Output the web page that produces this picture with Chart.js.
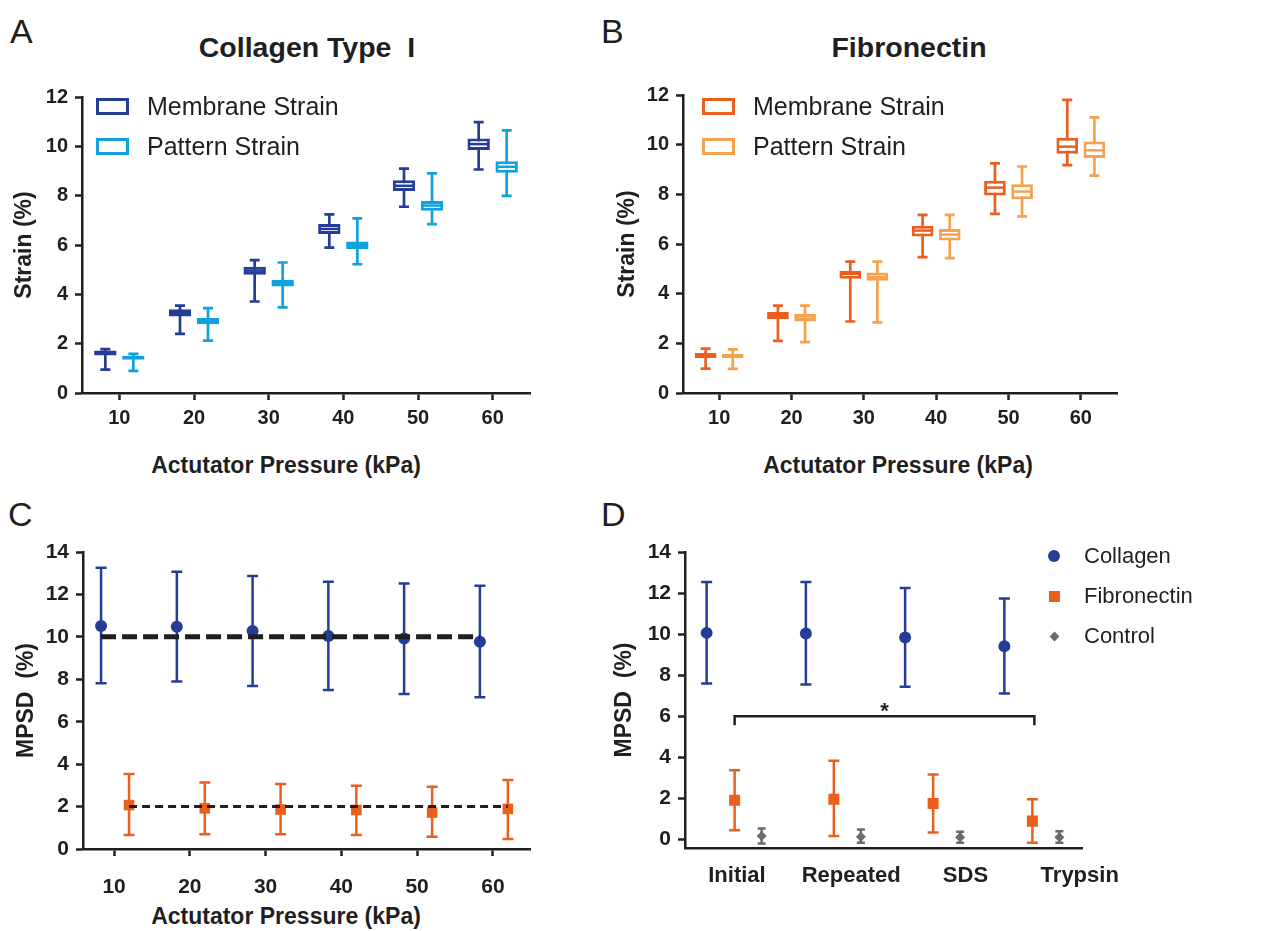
<!DOCTYPE html>
<html>
<head>
<meta charset="utf-8">
<title>Strain and MPSD</title>
<script src="https://cdn.jsdelivr.net/npm/chart.js@4/dist/chart.umd.min.js"></script>
<style>
  body { margin: 0; background: #fff; }
  #page { position: relative; width: 1271px; height: 931px; overflow: hidden;
          font-family: "Liberation Sans", Arial, Helvetica, sans-serif; color: #1f1f1f; }
  canvas { position: absolute; }
  .txt { position: absolute; white-space: pre; transform: translate(-50%, -50%); }
  .letter { position: absolute; font-size: 34px; line-height: 34px; }
  .title { font-size: 28.5px; font-weight: bold; }
  .axis-title { font-size: 23px; font-weight: bold; }
  .legend-row { position: absolute; display: flex; align-items: center; white-space: nowrap; }
</style>
</head>
<body>
<div id="page">
  <div class="letter" style="left:10px;top:14px">A</div>
  <div class="letter" style="left:601px;top:14px">B</div>
  <div class="letter" style="left:8px;top:497px">C</div>
  <div class="letter" style="left:601px;top:497px">D</div>

  <div class="txt title" style="left:307px;top:47px">Collagen Type  I</div>
  <div class="txt title" style="left:909px;top:47px">Fibronectin</div>

  <div class="txt axis-title" style="left:286px;top:465px">Actutator Pressure (kPa)</div>
  <div class="txt axis-title" style="left:898px;top:465px">Actutator Pressure (kPa)</div>
  <div class="txt axis-title" style="left:286px;top:916px">Actutator Pressure (kPa)</div>

  <canvas id="chartA" width="590" height="500" style="left:0;top:0"></canvas>
  <canvas id="chartB" width="681" height="500" style="left:590px;top:0"></canvas>
  <canvas id="chartC" width="590" height="431" style="left:0;top:500px"></canvas>
  <canvas id="chartD" width="681" height="431" style="left:590px;top:500px"></canvas>
</div>

<script>
// ---- data ----
const pressureLabels = ['10', '20', '30', '40', '50', '60'];
const pressures = [10, 20, 30, 40, 50, 60];

// A: collagen type I, box plots (strain %)
const colMembraneMin = [0.95, 2.40, 3.71, 5.89, 7.55, 9.06];
const colMembraneQ1 = [1.52, 3.10, 4.79, 6.45, 8.19, 9.85];
const colMembraneMedian = [1.62, 3.25, 4.96, 6.65, 8.40, 10.09];
const colMembraneQ3 = [1.72, 3.40, 5.12, 6.85, 8.63, 10.32];
const colMembraneMax = [1.78, 3.54, 5.39, 7.24, 9.10, 10.98];

const colPatternMin = [0.90, 2.12, 3.47, 5.22, 6.85, 7.99];
const colPatternQ1 = [1.35, 2.79, 4.32, 5.84, 7.39, 8.93];
const colPatternMedian = [1.43, 2.92, 4.45, 6.00, 7.60, 9.17];
const colPatternQ3 = [1.51, 3.04, 4.59, 6.14, 7.78, 9.40];
const colPatternMax = [1.59, 3.44, 5.29, 7.08, 8.90, 10.65];

// B: fibronectin, box plots (strain %)
const fibMembraneMin = [0.98, 2.10, 2.88, 5.47, 7.21, 9.18];
const fibMembraneQ1 = [1.41, 2.98, 4.60, 6.30, 7.95, 9.63];
const fibMembraneMedian = [1.52, 3.10, 4.80, 6.54, 8.27, 9.92];
const fibMembraneQ3 = [1.61, 3.26, 4.92, 6.73, 8.55, 10.28];
const fibMembraneMax = [1.79, 3.52, 5.29, 7.17, 9.25, 11.80];

const fibPatternMin = [0.97, 2.05, 2.84, 5.43, 7.11, 8.75];
const fibPatternQ1 = [1.41, 2.88, 4.52, 6.14, 7.80, 9.46];
const fibPatternMedian = [1.50, 3.00, 4.67, 6.38, 8.11, 9.77];
const fibPatternQ3 = [1.58, 3.18, 4.85, 6.60, 8.41, 10.13];
const fibPatternMax = [1.76, 3.52, 5.29, 7.17, 9.12, 11.10];

// C: MPSD vs pressure (mean, lower, upper)
const colMpsd = [10.51, 10.48, 10.28, 10.04, 9.92, 9.77];
const colMpsdLow = [7.81, 7.89, 7.68, 7.50, 7.31, 7.15];
const colMpsdHigh = [13.26, 13.07, 12.87, 12.60, 12.52, 12.41];
const fibMpsd = [2.07, 1.92, 1.86, 1.84, 1.72, 1.89];
const fibMpsdLow = [0.66, 0.69, 0.69, 0.66, 0.58, 0.47];
const fibMpsdHigh = [3.54, 3.14, 3.06, 2.98, 2.93, 3.25];
const targetCollagen = 10;
const targetFibronectin = 2;

// D: MPSD by treatment
const treatments = ['Initial', 'Repeated', 'SDS', 'Trypsin'];
const colTreat = [10.06, 10.03, 9.83, 9.41];
const colTreatLow = [7.59, 7.55, 7.43, 7.11];
const colTreatHigh = [12.54, 12.54, 12.25, 11.73];
const fibTreat = [1.91, 1.96, 1.75, 0.89];
const fibTreatLow = [0.45, 0.16, 0.34, -0.16];
const fibTreatHigh = [3.37, 3.83, 3.16, 1.96];
const ctrlTreat = [0.16, 0.13, 0.10, 0.10];
const ctrlTreatLow = [-0.20, -0.16, -0.16, -0.16];
const ctrlTreatHigh = [0.53, 0.48, 0.37, 0.40];
const sigFrom = 0, sigTo = 3, sigLevel = 6;

// ---- style ----
const FONT = '"Liberation Sans", Arial, Helvetica, sans-serif';
const INK = '#1f1f1f';
const BLUE = '#243d96';
const SKY = '#0fa2e0';
const ORANGE = '#ea5f1e';
const PEACH = '#f5a24f';
const GREY = '#6b6b6b';

Chart.defaults.font.family = FONT;
Chart.defaults.color = INK;

function axisLines() {
  return {
    grid: { drawOnChartArea: false, offset: false, tickLength: 7, tickWidth: 2.5, tickColor: INK },
    border: { display: true, color: INK, width: 2.5 }
  };
}

function yAxis(min, max, width, tickSize, title) {
  return {
    min: min, max: max,
    ...axisLines(),
    ticks: { padding: 7, color: INK, font: { size: tickSize, weight: 'bold' } },
    title: { display: true, text: title, color: INK, padding: 0, font: { size: 23, weight: 'bold' } },
    afterBuildTicks: s => {
      const list = [];
      for (let v = 0; v <= max; v += 2) list.push({ value: v });
      s.ticks = list;
    },
    afterFit: s => { s.width = width; }
  };
}

// whiskers behind boxes, median on top
const boxPlugin = {
  id: 'boxWhiskers',
  beforeDatasetsDraw(chart) {
    const ctx = chart.ctx, y = chart.scales.y;
    chart.data.datasets.forEach((ds, i) => {
      ctx.save();
      ctx.strokeStyle = ds.borderColor;
      ctx.lineWidth = 2.7;
      chart.getDatasetMeta(i).data.forEach((bar, j) => {
        const lo = y.getPixelForValue(ds.whiskerMin[j]);
        const hi = y.getPixelForValue(ds.whiskerMax[j]);
        const c = 5;
        ctx.beginPath();
        ctx.moveTo(bar.x, lo); ctx.lineTo(bar.x, hi);
        ctx.moveTo(bar.x - c, lo); ctx.lineTo(bar.x + c, lo);
        ctx.moveTo(bar.x - c, hi); ctx.lineTo(bar.x + c, hi);
        ctx.stroke();
      });
      ctx.restore();
    });
  },
  afterDatasetsDraw(chart) {
    const ctx = chart.ctx, y = chart.scales.y;
    chart.data.datasets.forEach((ds, i) => {
      ctx.save();
      ctx.strokeStyle = ds.borderColor;
      ctx.lineWidth = 2.5;
      chart.getDatasetMeta(i).data.forEach((bar, j) => {
        const m = y.getPixelForValue(ds.median[j]);
        ctx.beginPath();
        ctx.moveTo(bar.x - bar.width / 2 + 2, m);
        ctx.lineTo(bar.x + bar.width / 2 - 2, m);
        ctx.stroke();
      });
      ctx.restore();
    });
  }
};

function boxChart(id, pad, yWidth, series) {
  return new Chart(document.getElementById(id), {
    type: 'bar',
    data: {
      labels: pressureLabels,
      datasets: series.map(s => ({
        label: s.label,
        data: s.q1.map((v, i) => [v, s.q3[i]]),
        whiskerMin: s.min,
        whiskerMax: s.max,
        median: s.median,
        backgroundColor: '#ffffff',
        borderColor: s.color,
        borderWidth: 3,
        borderSkipped: false,
        categoryPercentage: 0.75,
        barPercentage: 0.8
      }))
    },
    options: {
      responsive: false,
      animation: false,
      layout: { padding: pad },
      plugins: { legend: { display: false }, tooltip: { enabled: false } },
      scales: {
        x: {
          ...axisLines(),
          ticks: { padding: 6, color: INK, font: { size: 20, weight: 'bold' } },
          afterFit: s => { s.height = 60; }
        },
        y: yAxis(0, 12, yWidth, 20, 'Strain (%)')
      }
    },
    plugins: [boxPlugin]
  });
}

// moves points sideways by a fixed pixel amount (grouped markers)
const shiftPlugin = {
  id: 'pixelShift',
  afterDatasetsUpdate(chart) {
    chart.data.datasets.forEach((ds, i) => {
      if (!ds.shift) return;
      chart.getDatasetMeta(i).data.forEach(pt => { pt.x += ds.shift; });
    });
  }
};

const errorBarPlugin = {
  id: 'errorBars',
  beforeDatasetsDraw(chart) {
    const ctx = chart.ctx, y = chart.scales.y;
    chart.data.datasets.forEach((ds, i) => {
      if (!ds.errLow) return;
      ctx.save();
      ctx.strokeStyle = ds.borderColor;
      ctx.lineWidth = 2.5;
      chart.getDatasetMeta(i).data.forEach((pt, j) => {
        const lo = y.getPixelForValue(ds.errLow[j]);
        const hi = y.getPixelForValue(ds.errHigh[j]);
        const c = ds.capWidth / 2;
        ctx.beginPath();
        ctx.moveTo(pt.x, lo); ctx.lineTo(pt.x, hi);
        ctx.moveTo(pt.x - c, lo); ctx.lineTo(pt.x + c, lo);
        ctx.moveTo(pt.x - c, hi); ctx.lineTo(pt.x + c, hi);
        ctx.stroke();
      });
      ctx.restore();
    });
  }
};

function markerSeries(label, data, low, high, color, style, radius, shift, cap) {
  return {
    label: label, data: data, errLow: low, errHigh: high, capWidth: cap, shift: shift,
    showLine: false, borderColor: color, backgroundColor: color,
    pointStyle: style, pointRadius: radius, pointBorderWidth: 0, order: 1
  };
}

function targetLine(value, shift, width, dash) {
  return {
    label: 'target', data: pressures.map(p => ({ x: p, y: value })), shift: shift,
    borderColor: INK, borderWidth: width, borderDash: dash, pointRadius: 0, order: 0
  };
}

// ---- A / B ----
boxChart('chartA', { left: 11, right: 60, top: 97, bottom: 47 }, 71, [
  { label: 'Membrane Strain', color: BLUE, min: colMembraneMin, q1: colMembraneQ1, median: colMembraneMedian, q3: colMembraneQ3, max: colMembraneMax },
  { label: 'Pattern Strain', color: SKY, min: colPatternMin, q1: colPatternQ1, median: colPatternMedian, q3: colPatternQ3, max: colPatternMax }
]);

boxChart('chartB', { left: 24, right: 154, top: 95, bottom: 47 }, 69, [
  { label: 'Membrane Strain', color: ORANGE, min: fibMembraneMin, q1: fibMembraneQ1, median: fibMembraneMedian, q3: fibMembraneQ3, max: fibMembraneMax },
  { label: 'Pattern Strain', color: PEACH, min: fibPatternMin, q1: fibPatternQ1, median: fibPatternMedian, q3: fibPatternQ3, max: fibPatternMax }
]);

// ---- C ----
new Chart(document.getElementById('chartC'), {
  type: 'line',
  data: {
    datasets: [
      targetLine(targetCollagen, -13, 5, [15, 6]),
      targetLine(targetFibronectin, 15, 3, [8, 5]),
      markerSeries('Collagen', pressures.map((p, i) => ({ x: p, y: colMpsd[i] })), colMpsdLow, colMpsdHigh, BLUE, 'circle', 6, -13, 11),
      markerSeries('Fibronectin', pressures.map((p, i) => ({ x: p, y: fibMpsd[i] })), fibMpsdLow, fibMpsdHigh, ORANGE, 'rect', 7.5, 15, 11)
    ]
  },
  options: {
    responsive: false,
    animation: false,
    layout: { padding: { left: 13, right: 60, top: 52, bottom: 32 } },
    plugins: { legend: { display: false }, tooltip: { enabled: false } },
    scales: {
      x: {
        type: 'linear', min: 5.9, max: 64.9,
        ...axisLines(),
        ticks: { padding: 19, color: INK, font: { size: 21, weight: 'bold' } },
        afterBuildTicks: s => { s.ticks = pressures.map(v => ({ value: v })); },
        afterFit: s => { s.height = 50; }
      },
      y: yAxis(0, 14, 70, 21, 'MPSD  (%)')
    }
  },
  plugins: [shiftPlugin, errorBarPlugin]
});

// ---- D ----
const bracketPlugin = {
  id: 'sigBracket',
  afterDatasetsDraw(chart) {
    const ctx = chart.ctx;
    const pts = chart.getDatasetMeta(1).data;
    const a = pts[sigFrom].x, b = pts[sigTo].x + 2;
    const yy = chart.scales.y.getPixelForValue(sigLevel);
    ctx.save();
    ctx.strokeStyle = INK;
    ctx.lineWidth = 2.5;
    ctx.beginPath();
    ctx.moveTo(a, yy + 9); ctx.lineTo(a, yy); ctx.lineTo(b, yy); ctx.lineTo(b, yy + 9);
    ctx.stroke();
    ctx.fillStyle = INK;
    ctx.font = 'bold 22px ' + FONT;
    ctx.textAlign = 'center';
    ctx.textBaseline = 'middle';
    ctx.fillText('*', (a + b) / 2, yy - 4);
    ctx.restore();
  }
};

new Chart(document.getElementById('chartD'), {
  type: 'line',
  data: {
    labels: treatments,
    datasets: [
      markerSeries('Collagen', colTreat, colTreatLow, colTreatHigh, BLUE, 'circle', 6, -28, 11),
      markerSeries('Fibronectin', fibTreat, fibTreatLow, fibTreatHigh, ORANGE, 'rect', 7.8, 0, 11),
      markerSeries('Control', ctrlTreat, ctrlTreatLow, ctrlTreatHigh, GREY, 'rectRot', 5, 27, 8)
    ]
  },
  options: {
    responsive: false,
    animation: false,
    layout: { padding: { left: 21, right: 189, top: 52, bottom: 33 } },
    plugins: { legend: { display: false }, tooltip: { enabled: false } },
    scales: {
      x: { type: 'category', offset: true, display: false },
      xl: {
        type: 'linear', position: 'bottom', min: -0.455, max: 3.02,
        grid: { display: false },
        border: { display: true, color: INK, width: 2.5 },
        ticks: { padding: 7, color: INK, autoSkip: false, maxRotation: 0,
                 font: { size: 22, weight: 'bold' }, callback: v => treatments[v] },
        afterBuildTicks: s => { s.ticks = treatments.map((t, i) => ({ value: i })); },
        afterFit: s => { s.height = 50; }
      },
      y: yAxis(-0.42, 14, 74, 21, 'MPSD  (%)')
    }
  },
  plugins: [shiftPlugin, errorBarPlugin, bracketPlugin]
});

// ---- legends ----
const page = document.getElementById('page');
function legendRow(x, y, marker, label, size, gap) {
  const row = document.createElement('div');
  row.className = 'legend-row';
  row.style.left = x + 'px';
  row.style.top = y + 'px';
  row.style.fontSize = size + 'px';
  row.appendChild(marker);
  const t = document.createElement('span');
  t.textContent = label;
  t.style.marginLeft = gap + 'px';
  row.appendChild(t);
  page.appendChild(row);
}
function swatch(color) {
  const m = document.createElement('span');
  m.style.cssText = 'display:inline-block;box-sizing:border-box;width:33px;height:17px;border:3px solid ' + color;
  return m;
}
function shape(color, w, radius, rotate) {
  const m = document.createElement('span');
  m.style.cssText = 'display:inline-block;width:' + w + 'px;height:' + w + 'px;background:' + color +
    ';border-radius:' + radius + ';transform:rotate(' + rotate + 'deg)';
  return m;
}

const boxLegend = ['Membrane Strain', 'Pattern Strain'];
[BLUE, SKY].forEach((c, i) => legendRow(96, 96 + i * 40 - 4, swatch(c), boxLegend[i], 25, 18));
[ORANGE, PEACH].forEach((c, i) => legendRow(702, 96 + i * 40 - 4, swatch(c), boxLegend[i], 25, 18));

const mpsdLegend = ['Collagen', 'Fibronectin', 'Control'];
const mpsdShapes = [shape(BLUE, 12, '50%', 0), shape(ORANGE, 11, '0', 0), shape(GREY, 7, '0', 45)];
const shapeW = [12, 11, 7];
mpsdShapes.forEach((m, i) => {
  const w = shapeW[i];
  legendRow(1054 - w / 2, 556 + i * 40 - 13, m, mpsdLegend[i], 22, 30 - w / 2);
});
</script>
</body>
</html>
